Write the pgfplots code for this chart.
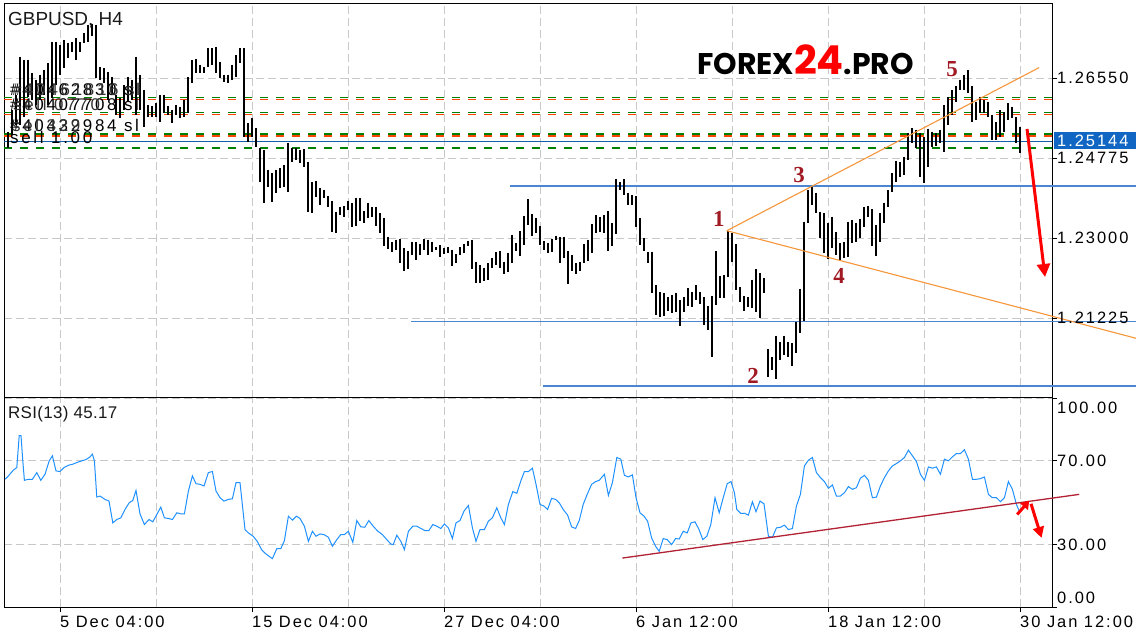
\documentclass[border=0pt]{standalone}
\usepackage{fontspec}
\setmainfont{Liberation Sans}
\newfontfamily\tkf{Liberation Sans}[LetterSpace=12]
\newfontfamily\ordf{Liberation Sans}[LetterSpace=16]
\newfontfamily\rsif{Liberation Sans}[LetterSpace=2]
\newfontfamily\serf{Liberation Serif}
\newfontfamily\logof{Poppins}
\usepackage{pgfplots}
\usepackage{pgfplotstable}
\pgfplotsset{compat=1.18}
\usetikzlibrary{arrows.meta}
\definecolor{gridgray}{RGB}{200,200,200}
\definecolor{ordgreen}{RGB}{0,128,0}
\definecolor{ordred}{RGB}{255,69,0}
\definecolor{bidblue}{RGB}{21,95,170}
\definecolor{boxblue}{RGB}{16,102,194}
\definecolor{lvlblue}{RGB}{74,134,210}
\definecolor{trendor}{RGB}{245,150,60}
\definecolor{rsiblue}{RGB}{30,144,255}
\definecolor{rsired}{RGB}{178,34,52}
\definecolor{numred}{RGB}{160,25,35}
\newcommand{\tk}{\tkf\fontsize{16.5}{18}\selectfont}
\newcommand{\numf}{\serf\bfseries\fontsize{23}{24}\selectfont}
\newcommand{\orf}{\ordf\fontsize{17}{18}\selectfont}

\pgfplotstableread{
b hi lo
-13 1.2536 1.2501
-12 1.2585 1.2530
-11 1.2618 1.2552
-10 1.2703 1.2552
-9 1.2696 1.2569
-8 1.2696 1.2614
-7 1.2667 1.2607
-6 1.2652 1.2596
-5 1.2663 1.2607
-4 1.2674 1.2618
-3 1.2689 1.2596
-2 1.2736 1.2612
-1 1.2736 1.2640
0 1.2729 1.2663
1 1.2740 1.2678
2 1.2734 1.2700
3 1.2736 1.2714
4 1.2745 1.2696
5 1.2736 1.2714
6 1.2756 1.2734
7 1.2774 1.2736
8 1.2776 1.2749
9 1.2774 1.2656
10 1.2680 1.2652
11 1.2678 1.2645
12 1.2669 1.2607
13 1.2658 1.2618
14 1.2618 1.2574
15 1.2612 1.2567
16 1.2640 1.2585
17 1.2658 1.2603
18 1.2652 1.2607
19 1.2703 1.2574
20 1.2663 1.2585
21 1.2629 1.2547
22 1.2596 1.2569
23 1.2594 1.2569
24 1.2600 1.2569
25 1.2618 1.2558
26 1.2618 1.2578
27 1.2594 1.2574
28 1.2585 1.2556
29 1.2596 1.2574
30 1.2592 1.2567
31 1.2607 1.2569
32 1.2658 1.2578
33 1.2696 1.2645
34 1.2698 1.2667
35 1.2685 1.2667
36 1.2680 1.2667
37 1.2722 1.2680
38 1.2722 1.2685
39 1.2725 1.2667
40 1.2692 1.2656
41 1.2663 1.2647
42 1.2663 1.2645
43 1.2685 1.2652
44 1.2707 1.2658
45 1.2722 1.2689
46 1.2722 1.2525
47 1.2556 1.2514
48 1.2567 1.2525
49 1.2545 1.2503
50 1.2501 1.2425
51 1.2496 1.2379
52 1.2452 1.2414
53 1.2445 1.2381
54 1.2452 1.2401
55 1.2456 1.2412
56 1.2463 1.2414
57 1.2512 1.2403
58 1.2501 1.2470
59 1.2501 1.2474
60 1.2496 1.2467
61 1.2498 1.2458
62 1.2470 1.2359
63 1.2425 1.2356
64 1.2427 1.2392
65 1.2412 1.2374
66 1.2407 1.2390
67 1.2394 1.2370
68 1.2383 1.2314
69 1.2359 1.2312
70 1.2370 1.2352
71 1.2372 1.2348
72 1.2383 1.2363
73 1.2379 1.2325
74 1.2390 1.2328
75 1.2390 1.2339
76 1.2361 1.2334
77 1.2379 1.2345
78 1.2370 1.2348
79 1.2370 1.2328
80 1.2356 1.2312
81 1.2345 1.2283
82 1.2303 1.2277
83 1.2292 1.2270
84 1.2297 1.2274
85 1.2299 1.2245
86 1.2279 1.2228
87 1.2272 1.2232
88 1.2292 1.2263
89 1.2292 1.2252
90 1.2288 1.2263
91 1.2299 1.2274
92 1.2297 1.2263
93 1.2292 1.2270
94 1.2281 1.2274
95 1.2285 1.2259
96 1.2279 1.2265
97 1.2281 1.2268
98 1.2274 1.2239
99 1.2265 1.2245
100 1.2281 1.2263
101 1.2288 1.2268
102 1.2294 1.2283
103 1.2297 1.2232
104 1.2248 1.2201
105 1.2241 1.2201
106 1.2234 1.2205
107 1.2245 1.2208
108 1.2257 1.2234
109 1.2270 1.2241
110 1.2272 1.2234
111 1.2248 1.2221
112 1.2268 1.2225
113 1.2308 1.2245
114 1.2290 1.2272
115 1.2316 1.2261
116 1.2350 1.2285
117 1.2387 1.2330
118 1.2354 1.2305
119 1.2345 1.2312
120 1.2328 1.2285
121 1.2294 1.2274
122 1.2290 1.2268
123 1.2299 1.2270
124 1.2305 1.2297
125 1.2303 1.2245
126 1.2303 1.2257
127 1.2272 1.2199
128 1.2263 1.2228
129 1.2245 1.2221
130 1.2248 1.2228
131 1.2288 1.2245
132 1.2297 1.2250
133 1.2332 1.2268
134 1.2352 1.2312
135 1.2348 1.2314
136 1.2352 1.2312
137 1.2361 1.2272
138 1.2334 1.2283
139 1.2432 1.2310
140 1.2425 1.2407
141 1.2432 1.2396
142 1.2401 1.2374
143 1.2396 1.2374
144 1.2394 1.2325
145 1.2345 1.2285
146 1.2301 1.2272
147 1.2270 1.2245
148 1.2270 1.2179
149 1.2197 1.2130
150 1.2181 1.2126
151 1.2179 1.2128
152 1.2170 1.2139
153 1.2174 1.2135
154 1.2179 1.2137
155 1.2163 1.2106
156 1.2170 1.2137
157 1.2190 1.2150
158 1.2181 1.2148
159 1.2197 1.2163
160 1.2181 1.2155
161 1.2170 1.2108
162 1.2150 1.2097
163 1.2172 1.2037
164 1.2272 1.2152
165 1.2217 1.2168
166 1.2219 1.2168
167 1.2316 1.2214
168 1.2312 1.2248
169 1.2288 1.2186
170 1.2192 1.2159
171 1.2172 1.2139
172 1.2170 1.2148
173 1.2208 1.2146
174 1.2232 1.2137
175 1.2223 1.2123
176 1.2212 1.2179
177 1.2055 1.1993
178 1.2037 1.2008
179 1.2084 1.1988
180 1.2070 1.2030
181 1.2084 1.2041
182 1.2070 1.2037
183 1.2068 1.2017
184 1.2115 1.2046
185 1.2188 1.2090
186 1.2337 1.2117
187 1.2407 1.2334
188 1.2414 1.2374
189 1.2401 1.2356
190 1.2359 1.2301
191 1.2356 1.2268
192 1.2334 1.2254
193 1.2348 1.2279
194 1.2314 1.2263
195 1.2290 1.2252
196 1.2292 1.2257
197 1.2337 1.2259
198 1.2341 1.2290
199 1.2334 1.2292
200 1.2343 1.2301
201 1.2370 1.2325
202 1.2372 1.2348
203 1.2365 1.2283
204 1.2330 1.2261
205 1.2356 1.2292
206 1.2379 1.2334
207 1.2407 1.2370
208 1.2445 1.2403
209 1.2472 1.2425
210 1.2470 1.2436
211 1.2481 1.2441
212 1.2534 1.2474
213 1.2545 1.2512
214 1.2541 1.2501
215 1.2534 1.2436
216 1.2525 1.2423
217 1.2543 1.2458
218 1.2536 1.2503
219 1.2534 1.2505
220 1.2541 1.2512
221 1.2596 1.2492
222 1.2614 1.2552
223 1.2629 1.2574
224 1.2638 1.2603
225 1.2652 1.2629
226 1.2663 1.2629
227 1.2674 1.2623
228 1.2638 1.2558
229 1.2603 1.2563
230 1.2614 1.2578
231 1.2607 1.2578
232 1.2603 1.2569
233 1.2574 1.2518
234 1.2558 1.2518
235 1.2585 1.2525
236 1.2580 1.2536
237 1.2600 1.2563
238 1.2592 1.2567
239 1.2569 1.2512
240 1.2547 1.2490
}\bars

\pgfplotstableread{
b v
-13.75 61.2
-12.9 62.8
-11.7 65.5
-10.8 66.8
-10.2 82.0
-9.75 82.0
-9.3 70.0
-8.9 60.7
-7.9 61.2
-6.9 61.2
-5.8 64.4
-4.8 60.7
-3.75 63.6
-2.7 70.0
-1.9 72.4
-1.0 65.2
0 64.9
1 66.8
2.1 67.9
3.2 68.4
4.2 69.2
5.4 70.0
6.5 70.6
7.5 71.9
8.1 73.2
8.6 70.0
9.2 52.7
10 53.2
11.25 51.6
12.25 50.8
13.2 40.4
14.2 42.0
15.2 42.8
16.25 46.8
17.3 50.0
18.2 51.1
19 55.9
20 44.7
21.1 39.6
22.25 42.0
23.2 40.9
24.2 44.4
25.2 47.9
26.1 42.8
27.1 42.5
28.1 42.0
29.2 45.2
30.2 44.7
31.1 44.7
32.1 55.6
33.1 62.8
34 59.1
35 58.8
36 58.0
37.1 64.4
38.1 64.9
39 55.6
40 52.4
41 50.8
42.1 51.6
43.1 51.9
44 59.6
45 59.6
46.25 37.2
47.1 35.6
48.3 34.0
49.3 31.6
50.4 27.6
51.4 25.7
52.3 24.4
53.1 23.3
54.2 28.1
55.2 28.1
56.1 31.9
57.1 43.6
58.1 41.7
59.1 43.6
60 42.5
61.1 38.8
62.1 31.6
63.1 36.4
64 34.0
65 35.1
66 34.8
67.1 33.5
68.1 29.2
69.2 32.4
70.2 34.8
71.1 34.8
72.1 36.4
73.2 31.1
74.2 41.5
75.2 38.5
76.2 38.3
77.2 41.5
78.3 38.8
79.4 36.5
80.6 34.8
81.7 32.4
82.7 30.3
83.3 30.0
84.2 34.5
85.2 31.6
86.1 27.6
87.1 36.4
88.2 38.8
89.2 38.8
90.25 37.7
91.25 36.7
92.2 36.7
93.2 39.6
94.2 38.8
95.2 37.7
96.1 39.9
97.1 38.0
98.1 32.9
99 40.4
100 41.5
101 46.0
102.1 48.7
103.1 38.0
104 31.6
105 37.2
106.1 37.2
107.1 41.2
108.1 42.8
109.2 47.6
110.2 42.8
111.1 39.6
112.1 49.2
113.2 55.3
114.2 54.5
115.2 60.4
116.1 64.9
117.1 64.9
118.1 66.5
119 58.8
120 49.2
121 48.4
121.9 46.8
122.9 52.1
123.9 51.6
124.8 50.0
125.8 46.8
126.9 44.1
127.9 38.5
128.9 37.7
129.8 41.5
130.8 49.2
131.8 54.0
132.9 58.8
133.9 60.1
134.8 60.7
136.1 63.6
137.1 53.5
138.1 59.6
139.2 71.6
140.2 70.8
141.1 63.1
142.1 62.3
143.1 63.3
144 52.4
145 45.2
146 43.6
146.9 41.2
147.9 33.2
148.9 29.2
149.8 26.8
150.8 32.9
151.8 32.4
152.9 30.0
153.9 32.9
154.8 32.7
155.8 36.4
156.8 35.6
157.75 40.4
158.75 40.9
159.75 37.2
160.7 32.4
161.7 34.0
162.7 39.6
163.75 52.4
164.8 45.2
165.8 52.4
166.8 59.1
167.75 60.1
168.6 54.8
169.2 46.8
170.2 44.9
171.1 45.0
172.1 44.1
173.1 50.5
174 45.7
175 50.8
176 49.5
177.1 34.0
178.1 33.5
179.1 38.0
180.1 38.3
181.1 39.3
182.1 37.2
183.1 37.7
184.1 48.4
185.1 54.0
186.1 67.6
187.1 70.3
188.1 71.6
189.1 64.4
190.1 62.0
191.1 60.1
192.1 56.9
193.1 58.5
194.1 53.2
195.1 53.2
196.1 54.8
197.1 57.7
198.1 56.4
199.1 57.2
200.1 61.7
201.1 63.1
202.1 60.7
203.1 52.4
204.1 52.7
205.1 58.0
206.1 62.0
207.1 65.2
208.1 67.6
209.1 68.7
210.1 70.0
211.1 71.6
212.1 75.1
213.1 72.4
214.1 69.7
215.1 63.6
216.1 60.7
217.1 67.1
218.1 66.5
219.1 67.1
220.1 63.6
221.1 70.8
222.1 70.0
223.1 71.9
224.1 73.5
225.1 73.5
226.1 75.3
227.1 70.8
228.1 61.2
229.1 61.2
230.1 61.5
231.1 62.3
232.1 54.0
233.1 52.4
234.1 52.4
235.1 50.5
236.1 52.4
237.1 60.1
238.1 56.4
239.1 49.2
240 45.17
}\rsi

\begin{document}
\begin{tikzpicture}[x=1bp,y=1bp]
\path[use as bounding box] (0bp,0bp) rectangle (1136bp,640bp);
\clip (0bp,0bp) rectangle (1136bp,640bp);
% ---------------- main price panel ----------------
\begin{axis}[
  at={(4bp,242bp)}, anchor=south west, scale only axis,
  width=1048bp, height=394bp,
  xmin=-14, xmax=248, ymin=1.19456, ymax=1.28198,
  clip=false,
  axis line style={black, line width=1bp},
  xtick={0,24,...,240}, xticklabels={}, x tick style={draw=none},
  ytick={1.21225,1.23,1.24775,1.2655}, yticklabels={},
  ytick pos=right, tick align=outside, major tick length=5bp,
  y tick style={black, line width=0.8bp},
  xmajorgrids, ymajorgrids,
  grid style={gridgray, dash pattern=on 8bp off 4bp, line width=0.8bp},
]
% order levels
\addplot[ordgreen, line width=1.3bp, dash pattern=on 8bp off 8bp] coordinates {(-14,1.26126) (248,1.26126)};
\addplot[ordred, line width=1.3bp, dash pattern=on 8bp off 8bp] coordinates {(-14,1.26080) (248,1.26080)};
\addplot[ordgreen, line width=1.3bp, dash pattern=on 8bp off 8bp] coordinates {(-14,1.25793) (248,1.25793)};
\addplot[ordred, line width=1.3bp, dash pattern=on 8bp off 8bp] coordinates {(-14,1.25750) (248,1.25750)};
\addplot[ordgreen, line width=1.3bp, dash pattern=on 8bp off 8bp] coordinates {(-14,1.25314) (248,1.25314)};
\addplot[ordred, line width=1.3bp, dash pattern=on 8bp off 8bp] coordinates {(-14,1.25272) (248,1.25272)};
\addplot[ordgreen, line width=1.3bp, dash pattern=on 8bp off 8bp] coordinates {(-14,1.25006) (248,1.25006)};
\addplot[bidblue, line width=1.3bp] coordinates {(-14,1.25144) (248,1.25144)};
% horizontal support / resistance lines
\addplot[lvlblue, line width=1.3bp] coordinates {(112.5,1.24160) (269,1.24160)};
\addplot[lvlblue, line width=1.3bp] coordinates {(87.75,1.21158) (269,1.21158)};
\addplot[lvlblue, line width=1.3bp] coordinates {(120.75,1.19722) (269,1.19722)};
% price bars (high-low)
\addplot[draw=none, mark=none,
  error bars/.cd, y dir=minus, y explicit, error mark=none,
  error bar style={draw=black, line width=1.1bp, solid}]
  table[x=b, y=hi, y error minus expr={\thisrow{hi}-\thisrow{lo}}] {\bars};
% triangle lines
\addplot[trendor, line width=1.1bp] coordinates {(166.7,1.23168) (244.75,1.26785)};
\addplot[trendor, line width=1.1bp] coordinates {(166.7,1.23168) (269,1.20781)};
% arrow
\addplot[red, line width=3bp, -{Triangle[width=13bp,length=13bp]}] coordinates {(241.75,1.25425) (246.25,1.22141)};
% wave numbers
\node[text=numred, font=\numf, inner sep=0pt] at (axis cs:164.7,1.23428) {1};
\node[text=numred, font=\numf, inner sep=0pt] at (axis cs:173.25,1.19944) {2};
\node[text=numred, font=\numf, inner sep=0pt] at (axis cs:184.75,1.24404) {3};
\node[text=numred, font=\numf, inner sep=0pt] at (axis cs:194.75,1.22163) {4};
\node[text=numred, font=\numf, inner sep=0pt] at (axis cs:223,1.26756) {5};
% logo
\node[anchor=base west, inner sep=0pt] at (axis cs:159.25,1.26623)
  {\logof\bfseries\fontsize{30}{30}\selectfont FOREX{\color{red}\fontsize{40}{40}\selectfont 24}.PRO};
% title
\node[anchor=base west, inner sep=0pt, font=\fontsize{19}{20}\selectfont, text=black!90] at (axis cs:-13,1.27710) {GBPUSD, H4};
% order labels
\node[anchor=west, inner sep=0pt, font=\orf, text=black] at (axis cs:-12.5,1.26312) {\#40462830 sl};
\node[anchor=west, inner sep=0pt, font=\orf, text=black!80, xshift=2bp] at (axis cs:-12.5,1.26312) {\#40461816 sl};
\node[anchor=west, inner sep=0pt, font=\orf, text=black] at (axis cs:-12.5,1.25979) {\#40407708 sl};
\node[anchor=west, inner sep=0pt, font=\orf, text=black!80, xshift=3bp] at (axis cs:-12.5,1.25979) {sell 0770};
\node[anchor=west, inner sep=0pt, font=\orf, text=black] at (axis cs:-12.5,1.25513) {\#40432984 sl};
\node[anchor=west, inner sep=0pt, font=\orf, text=black!80, xshift=2bp] at (axis cs:-12.5,1.25513) {sel 329};
\node[anchor=west, inner sep=0pt, font=\orf, text=black] at (axis cs:-12.5,1.25247) {sell 1.00};
% right tick labels
\node[anchor=west, inner sep=0pt, font=\tk, xshift=5bp] at (axis cs:248,1.2655) {1.26550};
\node[anchor=west, inner sep=0pt, font=\tk, xshift=5bp] at (axis cs:248,1.24775) {1.24775};
\node[anchor=west, inner sep=0pt, font=\tk, xshift=5bp] at (axis cs:248,1.23) {1.23000};
\node[anchor=west, inner sep=0pt, font=\tk, xshift=5bp] at (axis cs:248,1.21225) {1.21225};
% current price box
\fill[boxblue] (axis cs:248.5,1.25358) rectangle (axis cs:270,1.24981);
\node[anchor=west, inner sep=0pt, font=\tk, text=white, xshift=5bp] at (axis cs:248,1.25166) {1.25144};
\end{axis}
% ---------------- RSI panel ----------------
\begin{axis}[
  at={(4bp,32.5bp)}, anchor=south west, scale only axis,
  width=1048bp, height=209.5bp,
  xmin=-14, xmax=248, ymin=0, ymax=100,
  clip=false,
  axis line style={black, line width=1bp},
  xtick={0,48,...,240}, minor xtick={24,72,...,216}, xticklabels={},
  xtick pos=left, ytick pos=right,
  ytick={0,30,70,100}, yticklabels={},
  tick align=outside, major tick length=5bp, minor tick length=0pt,
  tick style={black, line width=0.8bp},
  xmajorgrids, xminorgrids, ymajorgrids,
  major grid style={gridgray, dash pattern=on 8bp off 4bp, line width=0.8bp},
  minor grid style={gridgray, dash pattern=on 8bp off 4bp, line width=0.8bp},
]
\addplot[rsiblue, line width=1bp] table[x=b, y=v] {\rsi};
\addplot[rsired, line width=1.3bp] coordinates {(140.6,23.6) (254.8,54.0)};
\addplot[red, line width=3bp, -{Triangle[width=10bp,length=8bp]}] coordinates {(239.3,44.4) (242.3,51.0)};
\addplot[red, line width=3bp, -{Triangle[width=11bp,length=11bp]}] coordinates {(242.75,49.5) (245.4,33.2)};
\node[anchor=base west, inner sep=0pt, font=\rsif\fontsize{17}{18}\selectfont, text=black!90] at (axis cs:-13,90.4) {RSI(13) 45.17};
\node[anchor=west, inner sep=0pt, font=\tk, xshift=5bp] at (axis cs:248,95.3) {100.00};
\node[anchor=west, inner sep=0pt, font=\tk, xshift=5bp] at (axis cs:248,70) {70.00};
\node[anchor=west, inner sep=0pt, font=\tk, xshift=5bp] at (axis cs:248,30) {30.00};
\node[anchor=west, inner sep=0pt, font=\tk, xshift=5bp] at (axis cs:248,4.7) {0.00};
\node[anchor=base west, inner sep=0pt, font=\tk, yshift=-20.5bp] at (axis cs:0,0) {5 Dec 04:00};
\node[anchor=base west, inner sep=0pt, font=\tk, yshift=-20.5bp] at (axis cs:48,0) {15 Dec 04:00};
\node[anchor=base west, inner sep=0pt, font=\tk, yshift=-20.5bp] at (axis cs:96,0) {27 Dec 04:00};
\node[anchor=base west, inner sep=0pt, font=\tk, yshift=-20.5bp] at (axis cs:144,0) {6 Jan 12:00};
\node[anchor=base west, inner sep=0pt, font=\tk, yshift=-20.5bp] at (axis cs:192,0) {18 Jan 12:00};
\node[anchor=base west, inner sep=0pt, font=\tk, yshift=-20.5bp] at (axis cs:240,0) {30 Jan 12:00};
\end{axis}
\end{tikzpicture}
\end{document}
